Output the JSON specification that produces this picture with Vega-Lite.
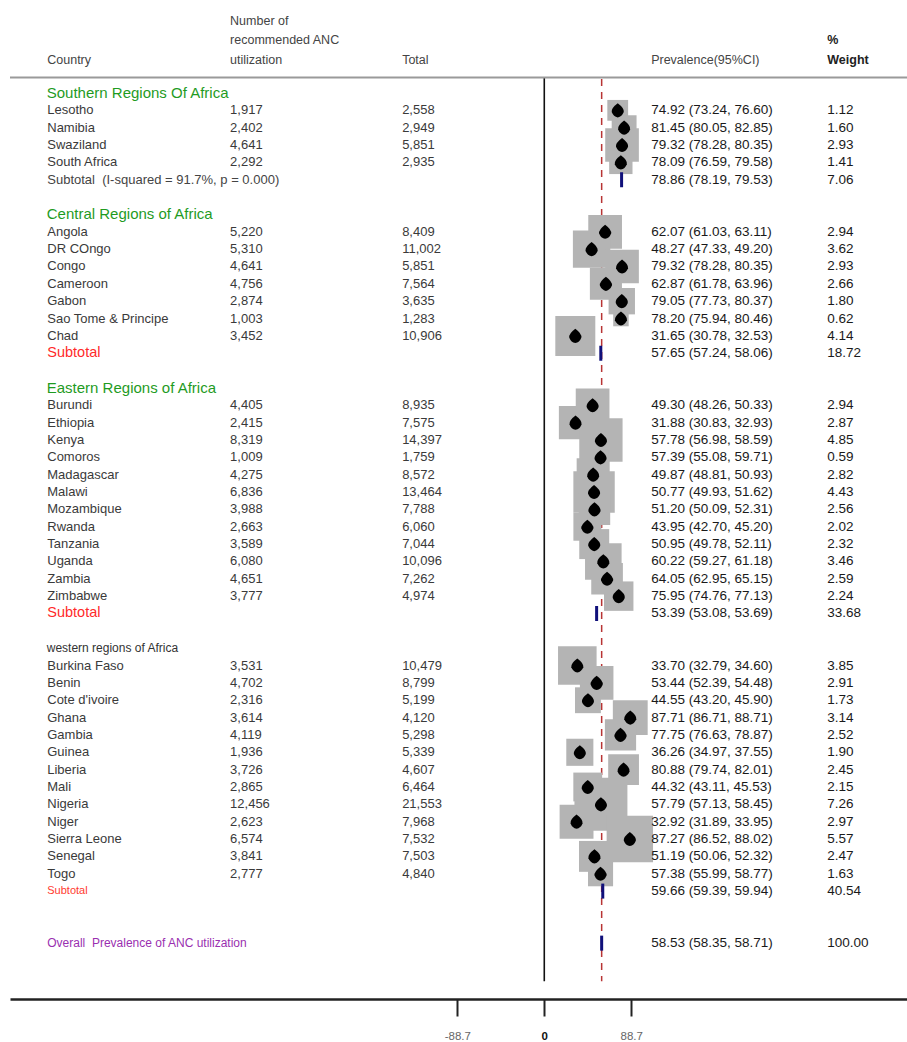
{
  "$schema": "https://vega.github.io/schema/vega-lite/v6.json",
  "autosize": {"type": "none"},
  "padding": {"left": 10, "right": 0, "top": 0, "bottom": 43},
  "width": 897,
  "height": 999,
  "background": "white",
  "config": {"view": {"stroke": null}, "font": "Liberation Sans", "text": {"font": "Liberation Sans"}},
  "datasets": {
    "rows": [
    {"idx": 0, "kind": "header", "region": "S", "label": "Southern Regions Of Africa"},
    {"idx": 1, "kind": "study", "region": "S", "label": "Lesotho", "n": 1917, "total": 2558, "est": 74.92, "lo": 73.24, "hi": 76.60, "weight": 1.12},
    {"idx": 2, "kind": "study", "region": "S", "label": "Namibia", "n": 2402, "total": 2949, "est": 81.45, "lo": 80.05, "hi": 82.85, "weight": 1.60},
    {"idx": 3, "kind": "study", "region": "S", "label": "Swaziland", "n": 4641, "total": 5851, "est": 79.32, "lo": 78.28, "hi": 80.35, "weight": 2.93},
    {"idx": 4, "kind": "study", "region": "S", "label": "South Africa", "n": 2292, "total": 2935, "est": 78.09, "lo": 76.59, "hi": 79.58, "weight": 1.41},
    {"idx": 5, "kind": "subtotal", "region": "S", "label": "Subtotal\u00a0\u00a0(I-squared = 91.7%, p = 0.000)", "est": 78.86, "lo": 78.19, "hi": 79.53, "weight": 7.06},
    {"idx": 7, "kind": "header", "region": "C", "label": "Central Regions of Africa"},
    {"idx": 8, "kind": "study", "region": "C", "label": "Angola", "n": 5220, "total": 8409, "est": 62.07, "lo": 61.03, "hi": 63.11, "weight": 2.94},
    {"idx": 9, "kind": "study", "region": "C", "label": "DR COngo", "n": 5310, "total": 11002, "est": 48.27, "lo": 47.33, "hi": 49.20, "weight": 3.62},
    {"idx": 10, "kind": "study", "region": "C", "label": "Congo", "n": 4641, "total": 5851, "est": 79.32, "lo": 78.28, "hi": 80.35, "weight": 2.93},
    {"idx": 11, "kind": "study", "region": "C", "label": "Cameroon", "n": 4756, "total": 7564, "est": 62.87, "lo": 61.78, "hi": 63.96, "weight": 2.66},
    {"idx": 12, "kind": "study", "region": "C", "label": "Gabon", "n": 2874, "total": 3635, "est": 79.05, "lo": 77.73, "hi": 80.37, "weight": 1.80},
    {"idx": 13, "kind": "study", "region": "C", "label": "Sao Tome & Principe", "n": 1003, "total": 1283, "est": 78.20, "lo": 75.94, "hi": 80.46, "weight": 0.62},
    {"idx": 14, "kind": "study", "region": "C", "label": "Chad", "n": 3452, "total": 10906, "est": 31.65, "lo": 30.78, "hi": 32.53, "weight": 4.14},
    {"idx": 15, "kind": "subtotal", "region": "C", "label": "Subtotal", "est": 57.65, "lo": 57.24, "hi": 58.06, "weight": 18.72},
    {"idx": 17, "kind": "header", "region": "E", "label": "Eastern Regions of Africa"},
    {"idx": 18, "kind": "study", "region": "E", "label": "Burundi", "n": 4405, "total": 8935, "est": 49.30, "lo": 48.26, "hi": 50.33, "weight": 2.94},
    {"idx": 19, "kind": "study", "region": "E", "label": "Ethiopia", "n": 2415, "total": 7575, "est": 31.88, "lo": 30.83, "hi": 32.93, "weight": 2.87},
    {"idx": 20, "kind": "study", "region": "E", "label": "Kenya", "n": 8319, "total": 14397, "est": 57.78, "lo": 56.98, "hi": 58.59, "weight": 4.85},
    {"idx": 21, "kind": "study", "region": "E", "label": "Comoros", "n": 1009, "total": 1759, "est": 57.39, "lo": 55.08, "hi": 59.71, "weight": 0.59},
    {"idx": 22, "kind": "study", "region": "E", "label": "Madagascar", "n": 4275, "total": 8572, "est": 49.87, "lo": 48.81, "hi": 50.93, "weight": 2.82},
    {"idx": 23, "kind": "study", "region": "E", "label": "Malawi", "n": 6836, "total": 13464, "est": 50.77, "lo": 49.93, "hi": 51.62, "weight": 4.43},
    {"idx": 24, "kind": "study", "region": "E", "label": "Mozambique", "n": 3988, "total": 7788, "est": 51.20, "lo": 50.09, "hi": 52.31, "weight": 2.56},
    {"idx": 25, "kind": "study", "region": "E", "label": "Rwanda", "n": 2663, "total": 6060, "est": 43.95, "lo": 42.70, "hi": 45.20, "weight": 2.02},
    {"idx": 26, "kind": "study", "region": "E", "label": "Tanzania", "n": 3589, "total": 7044, "est": 50.95, "lo": 49.78, "hi": 52.11, "weight": 2.32},
    {"idx": 27, "kind": "study", "region": "E", "label": "Uganda", "n": 6080, "total": 10096, "est": 60.22, "lo": 59.27, "hi": 61.18, "weight": 3.46},
    {"idx": 28, "kind": "study", "region": "E", "label": "Zambia", "n": 4651, "total": 7262, "est": 64.05, "lo": 62.95, "hi": 65.15, "weight": 2.59},
    {"idx": 29, "kind": "study", "region": "E", "label": "Zimbabwe", "n": 3777, "total": 4974, "est": 75.95, "lo": 74.76, "hi": 77.13, "weight": 2.24},
    {"idx": 30, "kind": "subtotal", "region": "E", "label": "Subtotal", "est": 53.39, "lo": 53.08, "hi": 53.69, "weight": 33.68},
    {"idx": 32, "kind": "header", "region": "W", "label": "western regions of Africa"},
    {"idx": 33, "kind": "study", "region": "W", "label": "Burkina Faso", "n": 3531, "total": 10479, "est": 33.70, "lo": 32.79, "hi": 34.60, "weight": 3.85},
    {"idx": 34, "kind": "study", "region": "W", "label": "Benin", "n": 4702, "total": 8799, "est": 53.44, "lo": 52.39, "hi": 54.48, "weight": 2.91},
    {"idx": 35, "kind": "study", "region": "W", "label": "Cote d'ivoire", "n": 2316, "total": 5199, "est": 44.55, "lo": 43.20, "hi": 45.90, "weight": 1.73},
    {"idx": 36, "kind": "study", "region": "W", "label": "Ghana", "n": 3614, "total": 4120, "est": 87.71, "lo": 86.71, "hi": 88.71, "weight": 3.14},
    {"idx": 37, "kind": "study", "region": "W", "label": "Gambia", "n": 4119, "total": 5298, "est": 77.75, "lo": 76.63, "hi": 78.87, "weight": 2.52},
    {"idx": 38, "kind": "study", "region": "W", "label": "Guinea", "n": 1936, "total": 5339, "est": 36.26, "lo": 34.97, "hi": 37.55, "weight": 1.90},
    {"idx": 39, "kind": "study", "region": "W", "label": "Liberia", "n": 3726, "total": 4607, "est": 80.88, "lo": 79.74, "hi": 82.01, "weight": 2.45},
    {"idx": 40, "kind": "study", "region": "W", "label": "Mali", "n": 2865, "total": 6464, "est": 44.32, "lo": 43.11, "hi": 45.53, "weight": 2.15},
    {"idx": 41, "kind": "study", "region": "W", "label": "Nigeria", "n": 12456, "total": 21553, "est": 57.79, "lo": 57.13, "hi": 58.45, "weight": 7.26},
    {"idx": 42, "kind": "study", "region": "W", "label": "Niger", "n": 2623, "total": 7968, "est": 32.92, "lo": 31.89, "hi": 33.95, "weight": 2.97},
    {"idx": 43, "kind": "study", "region": "W", "label": "Sierra Leone", "n": 6574, "total": 7532, "est": 87.27, "lo": 86.52, "hi": 88.02, "weight": 5.57},
    {"idx": 44, "kind": "study", "region": "W", "label": "Senegal", "n": 3841, "total": 7503, "est": 51.19, "lo": 50.06, "hi": 52.32, "weight": 2.47},
    {"idx": 45, "kind": "study", "region": "W", "label": "Togo", "n": 2777, "total": 4840, "est": 57.38, "lo": 55.99, "hi": 58.77, "weight": 1.63},
    {"idx": 46, "kind": "subtotal", "region": "W", "label": "Subtotal", "est": 59.66, "lo": 59.39, "hi": 59.94, "weight": 40.54},
    {"idx": 49, "kind": "overall", "region": "All", "label": "Overall\u00a0\u00a0Prevalence of ANC utilization", "est": 58.53, "lo": 58.35, "hi": 58.71, "weight": 100.00}
    ],
    "one": [{"k": 1}]
  },
  "data": {"name": "rows"},
  "layer": [
    {
      "transform": [{"filter": "datum.kind == 'overall'"}],
      "mark": {"type": "rule", "color": "#b83434", "strokeDash": [7, 6], "strokeWidth": 1.5},
      "encoding": {
        "x": {"field": "est", "type": "quantitative", "scale": {"domain": [-545, 370], "nice": false, "zero": false},
              "axis": {"values": [-88.7, 0, 88.7], "title": null, "grid": false, "domainColor": "#222", "domainWidth": 2.5,
                       "tickColor": "#222", "tickWidth": 2, "tickSize": 17, "labelFontSize": 11.5, "labelPadding": 14,
                       "labelColor": {"condition": {"test": "datum.value == 0", "value": "#111"}, "value": "#666"},
                       "labelFontWeight": {"condition": {"test": "datum.value == 0", "value": "bold"}, "value": "normal"},
                       "labelExpr": "datum.value == 0 ? '0' : (datum.value < 0 ? '-88.7' : '88.7')"}},
        "y": {"datum": -0.8, "type": "quantitative", "scale": {"domain": [-5.36, 52.22], "reverse": true, "nice": false, "zero": false}, "axis": null},
        "y2": {"datum": 51.2}
      }
    },
    {
      "data": {"name": "one"},
      "mark": {"type": "rule", "color": "#111", "strokeWidth": 1.6},
      "encoding": {"x": {"datum": 0}, "y": {"datum": -0.9}, "y2": {"datum": 51.2}}
    },
    {
      "data": {"name": "one"},
      "mark": {"type": "rule", "color": "#9a9a9a", "strokeWidth": 2},
      "encoding": {"x": {"datum": -545}, "x2": {"datum": 370}, "y": {"datum": -0.9}}
    },
    {
      "transform": [{"filter": "datum.kind == 'study'"}],
      "mark": {"type": "point", "shape": "square", "filled": true, "color": "#b4b4b4", "opacity": 1},
      "encoding": {
        "x": {"field": "est", "type": "quantitative", "title": null},
        "y": {"field": "idx", "type": "quantitative"},
        "size": {"field": "weight", "type": "quantitative", "scale": {"domain": [0, 10], "range": [0, 3865], "zero": true}, "legend": null}
      }
    },
    {
      "transform": [{"filter": "datum.kind == 'study'"}],
      "mark": {"type": "rule", "color": "#000", "strokeWidth": 1},
      "encoding": {
        "x": {"field": "lo", "type": "quantitative", "title": null},
        "x2": {"field": "hi"},
        "y": {"field": "idx", "type": "quantitative"}
      }
    },
    {
      "transform": [{"filter": "datum.kind == 'study'"}],
      "mark": {"type": "point", "shape": "M0,-1 Q0.95,-0.3 0.85,0.25 Q0.6,0.9 0,1 Q-0.6,0.9 -0.85,0.25 Q-0.95,-0.3 0,-1 Z", "filled": true, "color": "#000", "opacity": 1, "size": 200},
      "encoding": {
        "x": {"field": "est", "type": "quantitative", "title": null},
        "y": {"field": "idx", "type": "quantitative"}
      }
    },
    {
      "transform": [{"filter": "datum.kind == 'subtotal' || datum.kind == 'overall'"}],
      "mark": {"type": "tick", "orient": "vertical", "color": "#10107a", "opacity": 1, "thickness": 3, "size": 15},
      "encoding": {
        "x": {"field": "est", "type": "quantitative", "title": null},
        "y": {"field": "idx", "type": "quantitative"}
      }
    },
    {
      "transform": [{"filter": "datum.kind == 'study'"}],
      "mark": {"type": "text", "align": "left", "baseline": "middle", "fontSize": 13, "color": "#3a3a3a"},
      "encoding": {"x": {"datum": -507}, "y": {"field": "idx", "type": "quantitative"}, "text": {"field": "label"}}
    },
    {
      "transform": [{"filter": "datum.kind == 'study'"}],
      "mark": {"type": "text", "align": "left", "baseline": "middle", "fontSize": 13, "color": "#3a3a3a"},
      "encoding": {"x": {"datum": -320.5}, "y": {"field": "idx", "type": "quantitative"}, "text": {"field": "n", "format": ",d"}}
    },
    {
      "transform": [{"filter": "datum.kind == 'study'"}],
      "mark": {"type": "text", "align": "left", "baseline": "middle", "fontSize": 13, "color": "#3a3a3a"},
      "encoding": {"x": {"datum": -145}, "y": {"field": "idx", "type": "quantitative"}, "text": {"field": "total", "format": ",d"}}
    },
    {
      "transform": [
        {"filter": "isValid(datum.est)"},
        {"calculate": "format(datum.est, '.2f') + ' (' + format(datum.lo, '.2f') + ', ' + format(datum.hi, '.2f') + ')'", "as": "ci"}
      ],
      "mark": {"type": "text", "align": "left", "baseline": "middle", "fontSize": 13.5, "color": "#1a1a1a"},
      "encoding": {"x": {"datum": 109}, "y": {"field": "idx", "type": "quantitative"}, "text": {"field": "ci"}}
    },
    {
      "transform": [{"filter": "isValid(datum.est)"}],
      "mark": {"type": "text", "align": "left", "baseline": "middle", "fontSize": 13.5, "color": "#1a1a1a"},
      "encoding": {"x": {"datum": 288.7}, "y": {"field": "idx", "type": "quantitative"}, "text": {"field": "weight", "format": ".2f"}}
    },
    {
      "transform": [{"filter": "datum.kind == 'header' && datum.region != 'W'"}],
      "mark": {"type": "text", "align": "left", "baseline": "middle", "fontSize": 15, "color": "#1f9b1f"},
      "encoding": {"x": {"datum": -507.5}, "y": {"field": "idx", "type": "quantitative"}, "text": {"field": "label"}}
    },
    {
      "transform": [{"filter": "datum.kind == 'header' && datum.region == 'W'"}],
      "mark": {"type": "text", "align": "left", "baseline": "middle", "fontSize": 12, "color": "#333"},
      "encoding": {"x": {"datum": -507.5}, "y": {"field": "idx", "type": "quantitative"}, "text": {"field": "label"}}
    },
    {
      "transform": [{"filter": "datum.kind == 'subtotal' && datum.region == 'S'"}],
      "mark": {"type": "text", "align": "left", "baseline": "middle", "fontSize": 13, "color": "#444"},
      "encoding": {"x": {"datum": -507}, "y": {"field": "idx", "type": "quantitative"}, "text": {"field": "label"}}
    },
    {
      "transform": [{"filter": "datum.kind == 'subtotal' && (datum.region == 'C' || datum.region == 'E')"}],
      "mark": {"type": "text", "align": "left", "baseline": "middle", "fontSize": 14.5, "color": "#ff2a2a"},
      "encoding": {"x": {"datum": -507}, "y": {"field": "idx", "type": "quantitative"}, "text": {"field": "label"}}
    },
    {
      "transform": [{"filter": "datum.kind == 'subtotal' && datum.region == 'W'"}],
      "mark": {"type": "text", "align": "left", "baseline": "middle", "fontSize": 11, "color": "#ff3b30"},
      "encoding": {"x": {"datum": -507}, "y": {"field": "idx", "type": "quantitative"}, "text": {"field": "label"}}
    },
    {
      "transform": [{"filter": "datum.kind == 'overall'"}],
      "mark": {"type": "text", "align": "left", "baseline": "middle", "fontSize": 12, "color": "#9a2fb0"},
      "encoding": {"x": {"datum": -507}, "y": {"field": "idx", "type": "quantitative"}, "text": {"field": "label"}}
    },
    {
      "data": {"name": "one"},
      "mark": {"type": "text", "align": "left", "baseline": "middle", "fontSize": 12.5, "color": "#444"},
      "encoding": {"x": {"datum": -507}, "y": {"datum": -1.9}, "text": {"value": "Country"}}
    },
    {
      "data": {"name": "one"},
      "mark": {"type": "text", "align": "left", "baseline": "middle", "fontSize": 12.5, "color": "#444"},
      "encoding": {"x": {"datum": -320.5}, "y": {"datum": -4.15}, "text": {"value": "Number of"}}
    },
    {
      "data": {"name": "one"},
      "mark": {"type": "text", "align": "left", "baseline": "middle", "fontSize": 12.5, "color": "#444"},
      "encoding": {"x": {"datum": -320.5}, "y": {"datum": -3.05}, "text": {"value": "recommended ANC"}}
    },
    {
      "data": {"name": "one"},
      "mark": {"type": "text", "align": "left", "baseline": "middle", "fontSize": 12.5, "color": "#444"},
      "encoding": {"x": {"datum": -320.5}, "y": {"datum": -1.9}, "text": {"value": "utilization"}}
    },
    {
      "data": {"name": "one"},
      "mark": {"type": "text", "align": "left", "baseline": "middle", "fontSize": 12.5, "color": "#444"},
      "encoding": {"x": {"datum": -145}, "y": {"datum": -1.9}, "text": {"value": "Total"}}
    },
    {
      "data": {"name": "one"},
      "mark": {"type": "text", "align": "left", "baseline": "middle", "fontSize": 12.5, "color": "#444"},
      "encoding": {"x": {"datum": 109}, "y": {"datum": -1.9}, "text": {"value": "Prevalence(95%CI)"}}
    },
    {
      "data": {"name": "one"},
      "mark": {"type": "text", "align": "left", "baseline": "middle", "fontSize": 12.5, "fontWeight": "bold", "color": "#222"},
      "encoding": {"x": {"datum": 288.7}, "y": {"datum": -3.05}, "text": {"value": "%"}}
    },
    {
      "data": {"name": "one"},
      "mark": {"type": "text", "align": "left", "baseline": "middle", "fontSize": 12.5, "fontWeight": "bold", "color": "#222"},
      "encoding": {"x": {"datum": 288.7}, "y": {"datum": -1.9}, "text": {"value": "Weight"}}
    }
  ]
}
